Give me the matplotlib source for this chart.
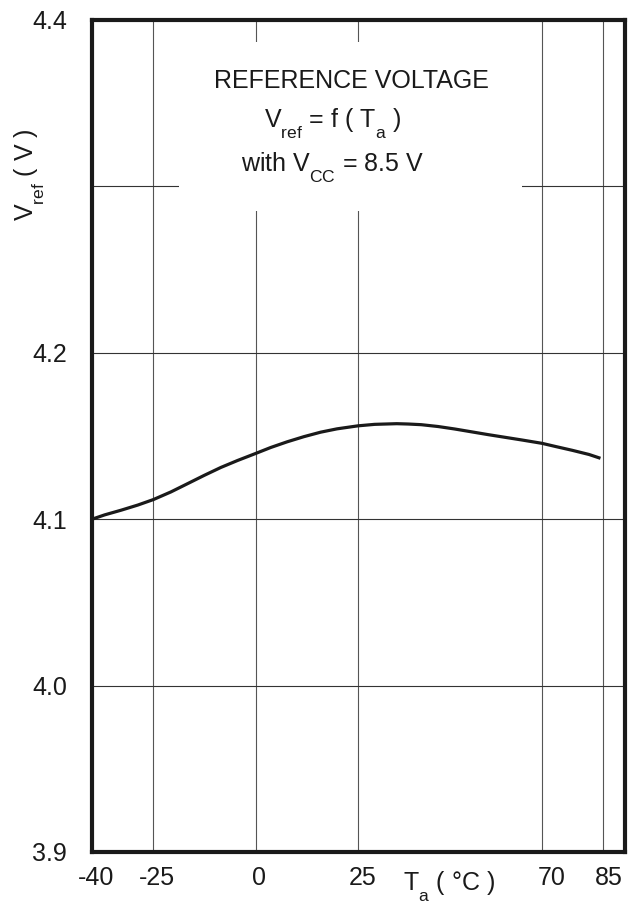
import matplotlib
matplotlib.use("Agg")
import matplotlib.pyplot as plt
from matplotlib.patches import Rectangle
from matplotlib.transforms import ScaledTranslation

try:
    import matplotlib._mathtext as _mt
    _mt.FontConstantsBase.sub1 = 0.8
    _mt.FontConstantsBase.subdrop = 0.5
except Exception:
    pass

plt.rcParams['font.family'] = ['Liberation Sans', 'DejaVu Sans']
plt.rcParams['mathtext.fontset'] = 'custom'
plt.rcParams['mathtext.rm'] = 'Liberation Sans'
plt.rcParams['mathtext.it'] = 'Liberation Sans'

# Data
temp_c = [-40, -36.9, -32.9, -28.8, -25, -20.7, -16.6, -12.6, -8.5, -4.4, 0,
          3.7, 7.7, 11.8, 15.9, 19.9, 25, 29.1, 34.5, 37.3, 40.5, 44.6, 48.7,
          52.8, 56.9, 61.0, 65.1, 70, 73.3, 77.4, 81.5, 84.3]
vref_v = [4.1000, 4.1026, 4.1054, 4.1085, 4.1118, 4.1164, 4.1214, 4.1263,
          4.1311, 4.1353, 4.1395, 4.1431, 4.1465, 4.1496, 4.1523, 4.1543,
          4.1561, 4.1570, 4.1574, 4.1572, 4.1568, 4.1557, 4.1542, 4.1525,
          4.1508, 4.1492, 4.1476, 4.1456, 4.1437, 4.1414, 4.1389, 4.1366]

x_ticks = [-40, -25, 0, 25, 70, 85]
x_tick_labels = ['-40', '-25', '0', '25', '70', '85']
x_grid = [-25, 0, 25, 70, 85]
y_ticks = [3.9, 4.0, 4.1, 4.2, 4.3, 4.4]
y_tick_labels = ['3.9', '4.0', '4.1', '4.2', '', '4.4']

W, H = 635, 910
fig = plt.figure(figsize=(W / 100, H / 100), dpi=100)
L, R, T, B = 92, 625, 20, 852
ax = fig.add_axes([L / W, 1 - B / H, (R - L) / W, (B - T) / H])

ax.set_xlim(-40, 90.3)
ax.set_ylim(3.9, 4.4)

# grid
for xv in x_grid:
    ax.axvline(xv, color='#555555', lw=0.8, zorder=0.5)
for yv in [4.0, 4.1, 4.2, 4.3]:
    ax.axhline(yv, color='#333333', lw=0.8, zorder=0.5)

# white box behind the title text
ax.add_patch(Rectangle((-18.7, 4.2852), 65.2 + 18.7, 4.3868 - 4.2852,
                       facecolor='white', edgecolor='none', zorder=1))

ax.plot(temp_c, vref_v, color='#1a1a1a', lw=2.3, zorder=2,
        solid_capstyle='butt', solid_joinstyle='round')

ax.set_xticks(x_ticks)
ax.set_xticklabels(x_tick_labels)
ax.set_yticks(y_ticks)
ax.set_yticklabels(y_tick_labels)
ax.tick_params(axis='both', length=0, labelsize=18, colors='#1a1a1a')
ax.tick_params(axis='y', pad=18)
ax.tick_params(axis='x', pad=10)

offsets_px = [4, 4, 3, 5, 10, 5]
for lab, dx in zip(ax.get_xticklabels(), offsets_px):
    lab.set_transform(lab.get_transform() + ScaledTranslation(dx / 100, 0, fig.dpi_scale_trans))

for s in ax.spines.values():
    s.set_linewidth(3)
    s.set_color('#1a1a1a')

def axfx(px):
    return (px - L) / (R - L)

def axfy(py):
    return (B - py) / (B - T)

ax.text(axfx(351.5), axfy(88), 'REFERENCE VOLTAGE', transform=ax.transAxes,
        ha='center', va='baseline', fontsize=18, color='#1a1a1a', zorder=3)
ax.text(axfx(333), axfy(128), r'V$_{\mathrm{ref}}$ = f ( T$_{\mathrm{a}}$ )',
        transform=ax.transAxes, ha='center', va='baseline', fontsize=18,
        color='#1a1a1a', zorder=3)
ax.text(axfx(333), axfy(172), r'with V$_{\mathrm{CC}}$ = 8.5 V',
        transform=ax.transAxes, ha='center', va='baseline', fontsize=18,
        color='#1a1a1a', zorder=3)

fig.text(30 / W, 1 - 175 / H, r'V$_{\mathrm{ref}}$ ( V )', rotation=90,
         ha='center', va='center', fontsize=18, color='#1a1a1a')
fig.text(403 / W, 1 - 891 / H, r'T$_{\mathrm{a}}$ ( °C )', ha='left',
         va='baseline', fontsize=18, color='#1a1a1a')

fig.savefig('out.png', dpi=100)
